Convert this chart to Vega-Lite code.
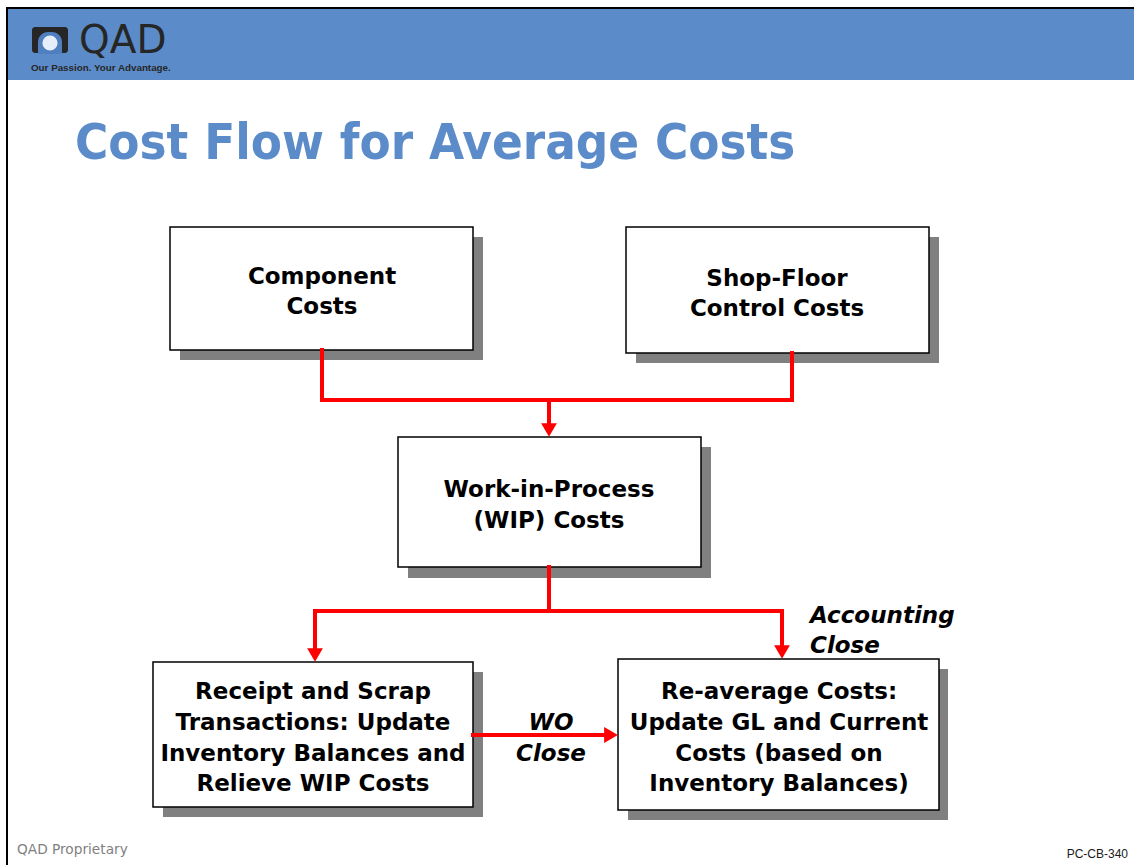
{
  "$schema": "https://vega.github.io/schema/vega-lite/v6.json",
  "width": 1134,
  "height": 865,
  "padding": 0,
  "autosize": "none",
  "background": "white",
  "config": {"view": {"stroke": null}},
  "datasets": {
    "fills": [
      {"x": 7, "x2": 1134, "y": 9, "y2": 80, "kind": "band"},
      {"x": 180, "x2": 483, "y": 237, "y2": 360, "kind": "shadow"},
      {"x": 636, "x2": 939, "y": 237, "y2": 363, "kind": "shadow"},
      {"x": 408, "x2": 711, "y": 447, "y2": 578, "kind": "shadow"},
      {"x": 163, "x2": 483, "y": 672, "y2": 817, "kind": "shadow"},
      {"x": 628, "x2": 948, "y": 669, "y2": 820, "kind": "shadow"}
    ],
    "frame": [
      {"x": 6, "x2": 1134, "y": 8, "y2": 8},
      {"x": 7, "x2": 7, "y": 7, "y2": 865}
    ],
    "logo": [{"x": 32, "x2": 68, "y": 27, "y2": 53}],
    "window": [{"x": 38, "x2": 62, "y": 32, "y2": 54}],
    "sphere": [{"x": 50, "y": 43}],
    "boxes": [
      {"x": 170, "x2": 473, "y": 227, "y2": 350, "name": "Component"},
      {"x": 626, "x2": 929, "y": 227, "y2": 353, "name": "Shop-Floor"},
      {"x": 398, "x2": 701, "y": 437, "y2": 567, "name": "WIP"},
      {"x": 153, "x2": 473, "y": 662, "y2": 807, "name": "Receipt"},
      {"x": 618, "x2": 939, "y": 659, "y2": 810, "name": "Re-average"}
    ],
    "segs": [
      {"x": 322, "y": 350, "x2": 322, "y2": 400},
      {"x": 322, "y": 400, "x2": 792, "y2": 400},
      {"x": 792, "y": 353, "x2": 792, "y2": 400},
      {"x": 549, "y": 400, "x2": 549, "y2": 426},
      {"x": 549, "y": 567, "x2": 549, "y2": 611},
      {"x": 315, "y": 611, "x2": 782, "y2": 611},
      {"x": 315, "y": 611, "x2": 315, "y2": 650},
      {"x": 782, "y": 611, "x2": 782, "y2": 647},
      {"x": 473, "y": 735, "x2": 606, "y2": 735}
    ],
    "downheads": [
      {"x": 549, "y": 430},
      {"x": 315, "y": 655},
      {"x": 782, "y": 652}
    ],
    "rightheads": [{"x": 611, "y": 735}],
    "boxtext": [
      {"x": 322, "y": 277, "text": "Component"},
      {"x": 322, "y": 307, "text": "Costs"},
      {"x": 777, "y": 279, "text": "Shop-Floor"},
      {"x": 777, "y": 309, "text": "Control Costs"},
      {"x": 549, "y": 490, "text": "Work-in-Process"},
      {"x": 549, "y": 521, "text": "(WIP) Costs"},
      {"x": 313, "y": 692, "text": "Receipt and Scrap"},
      {"x": 313, "y": 723, "text": "Transactions: Update"},
      {"x": 313, "y": 754, "text": "Inventory Balances and"},
      {"x": 313, "y": 784, "text": "Relieve WIP Costs"},
      {"x": 779, "y": 692, "text": "Re-average Costs:"},
      {"x": 779, "y": 723, "text": "Update GL and Current"},
      {"x": 779, "y": 754, "text": "Costs (based on"},
      {"x": 779, "y": 784, "text": "Inventory Balances)"}
    ],
    "acclabel": [
      {"x": 810, "y": 616, "text": "Accounting"},
      {"x": 810, "y": 646, "text": "Close"}
    ],
    "wolabel": [
      {"x": 551, "y": 723, "text": "WO"},
      {"x": 551, "y": 754, "text": "Close"}
    ],
    "title": [{"x": 75, "y": 159, "text": "Cost Flow for Average Costs"}],
    "qad": [{"x": 79, "y": 53, "text": "QAD"}],
    "tagline": [{"x": 31, "y": 71, "text": "Our Passion. Your Advantage."}],
    "footl": [{"x": 17, "y": 854, "text": "QAD Proprietary"}],
    "footr": [{"x": 1128, "y": 854, "text": "PC-CB-340"}]
  },
  "layer": [
    {
      "data": {"name": "fills"},
      "mark": {"type": "rect"},
      "encoding": {
        "x": {"field": "x", "type": "quantitative", "scale": {"domain": [0, 1134], "nice": false, "zero": false}, "axis": null},
        "x2": {"field": "x2"},
        "y": {"field": "y", "type": "quantitative", "scale": {"domain": [0, 865], "reverse": true, "nice": false, "zero": false}, "axis": null},
        "y2": {"field": "y2"},
        "color": {"field": "kind", "type": "nominal", "scale": {"domain": ["band", "shadow"], "range": ["#5b8cc9", "#808080"]}, "legend": null}
      }
    },
    {
      "data": {"name": "frame"},
      "mark": {"type": "rule", "color": "#000000", "strokeWidth": 2},
      "encoding": {
        "x": {"field": "x", "type": "quantitative"},
        "x2": {"field": "x2"},
        "y": {"field": "y", "type": "quantitative"},
        "y2": {"field": "y2"}
      }
    },
    {
      "data": {"name": "logo"},
      "mark": {"type": "rect", "color": "#262626", "cornerRadius": 3},
      "encoding": {
        "x": {"field": "x", "type": "quantitative"},
        "x2": {"field": "x2"},
        "y": {"field": "y", "type": "quantitative"},
        "y2": {"field": "y2"}
      }
    },
    {
      "data": {"name": "window"},
      "mark": {"type": "rect", "color": "#4f7fbf", "cornerRadiusTopLeft": 10, "cornerRadiusTopRight": 10},
      "encoding": {
        "x": {"field": "x", "type": "quantitative"},
        "x2": {"field": "x2"},
        "y": {"field": "y", "type": "quantitative"},
        "y2": {"field": "y2"}
      }
    },
    {
      "data": {"name": "sphere"},
      "mark": {"type": "point", "shape": "circle", "filled": true, "color": "#e6eefa", "opacity": 1, "size": 230},
      "encoding": {
        "x": {"field": "x", "type": "quantitative"},
        "y": {"field": "y", "type": "quantitative"}
      }
    },
    {
      "data": {"name": "boxes"},
      "mark": {"type": "rect", "fill": "#ffffff", "stroke": "#000000", "strokeWidth": 1.5},
      "encoding": {
        "x": {"field": "x", "type": "quantitative"},
        "x2": {"field": "x2"},
        "y": {"field": "y", "type": "quantitative"},
        "y2": {"field": "y2"}
      }
    },
    {
      "data": {"name": "segs"},
      "mark": {"type": "rule", "color": "#ff0000", "strokeWidth": 4, "strokeCap": "square"},
      "encoding": {
        "x": {"field": "x", "type": "quantitative"},
        "x2": {"field": "x2"},
        "y": {"field": "y", "type": "quantitative"},
        "y2": {"field": "y2"}
      }
    },
    {
      "data": {"name": "downheads"},
      "mark": {"type": "point", "shape": "triangle-down", "filled": true, "color": "#ff0000", "opacity": 1, "size": 250},
      "encoding": {
        "x": {"field": "x", "type": "quantitative"},
        "y": {"field": "y", "type": "quantitative"}
      }
    },
    {
      "data": {"name": "rightheads"},
      "mark": {"type": "point", "shape": "triangle-right", "filled": true, "color": "#ff0000", "opacity": 1, "size": 250},
      "encoding": {
        "x": {"field": "x", "type": "quantitative"},
        "y": {"field": "y", "type": "quantitative"}
      }
    },
    {
      "data": {"name": "boxtext"},
      "mark": {"type": "text", "font": "DejaVu Sans", "fontWeight": "bold", "fontSize": 23, "color": "#000000", "align": "center", "baseline": "middle"},
      "encoding": {
        "x": {"field": "x", "type": "quantitative"},
        "y": {"field": "y", "type": "quantitative"},
        "text": {"field": "text"}
      }
    },
    {
      "data": {"name": "acclabel"},
      "mark": {"type": "text", "font": "DejaVu Sans", "fontWeight": "bold", "fontStyle": "italic", "fontSize": 23, "color": "#000000", "align": "left", "baseline": "middle"},
      "encoding": {
        "x": {"field": "x", "type": "quantitative"},
        "y": {"field": "y", "type": "quantitative"},
        "text": {"field": "text"}
      }
    },
    {
      "data": {"name": "wolabel"},
      "mark": {"type": "text", "font": "DejaVu Sans", "fontWeight": "bold", "fontStyle": "italic", "fontSize": 23, "color": "#000000", "align": "center", "baseline": "middle"},
      "encoding": {
        "x": {"field": "x", "type": "quantitative"},
        "y": {"field": "y", "type": "quantitative"},
        "text": {"field": "text"}
      }
    },
    {
      "data": {"name": "title"},
      "mark": {"type": "text", "font": "DejaVu Sans Condensed", "fontWeight": "bold", "fontSize": 50.5, "color": "#5b8cc9", "align": "left", "baseline": "alphabetic"},
      "encoding": {
        "x": {"field": "x", "type": "quantitative"},
        "y": {"field": "y", "type": "quantitative"},
        "text": {"field": "text"}
      }
    },
    {
      "data": {"name": "qad"},
      "mark": {"type": "text", "font": "DejaVu Sans", "fontWeight": "normal", "fontSize": 39, "color": "#262626", "align": "left", "baseline": "alphabetic"},
      "encoding": {
        "x": {"field": "x", "type": "quantitative"},
        "y": {"field": "y", "type": "quantitative"},
        "text": {"field": "text"}
      }
    },
    {
      "data": {"name": "tagline"},
      "mark": {"type": "text", "font": "Liberation Sans", "fontWeight": "bold", "fontSize": 9.8, "color": "#262626", "align": "left", "baseline": "alphabetic"},
      "encoding": {
        "x": {"field": "x", "type": "quantitative"},
        "y": {"field": "y", "type": "quantitative"},
        "text": {"field": "text"}
      }
    },
    {
      "data": {"name": "footl"},
      "mark": {"type": "text", "font": "DejaVu Sans", "fontSize": 13.7, "color": "#7f7f7f", "align": "left", "baseline": "alphabetic"},
      "encoding": {
        "x": {"field": "x", "type": "quantitative"},
        "y": {"field": "y", "type": "quantitative"},
        "text": {"field": "text"}
      }
    },
    {
      "data": {"name": "footr"},
      "mark": {"type": "text", "font": "Liberation Sans", "fontSize": 12, "color": "#1a1a1a", "align": "right", "baseline": "middle"},
      "encoding": {
        "x": {"field": "x", "type": "quantitative"},
        "y": {"field": "y", "type": "quantitative"},
        "text": {"field": "text"}
      }
    }
  ]
}
